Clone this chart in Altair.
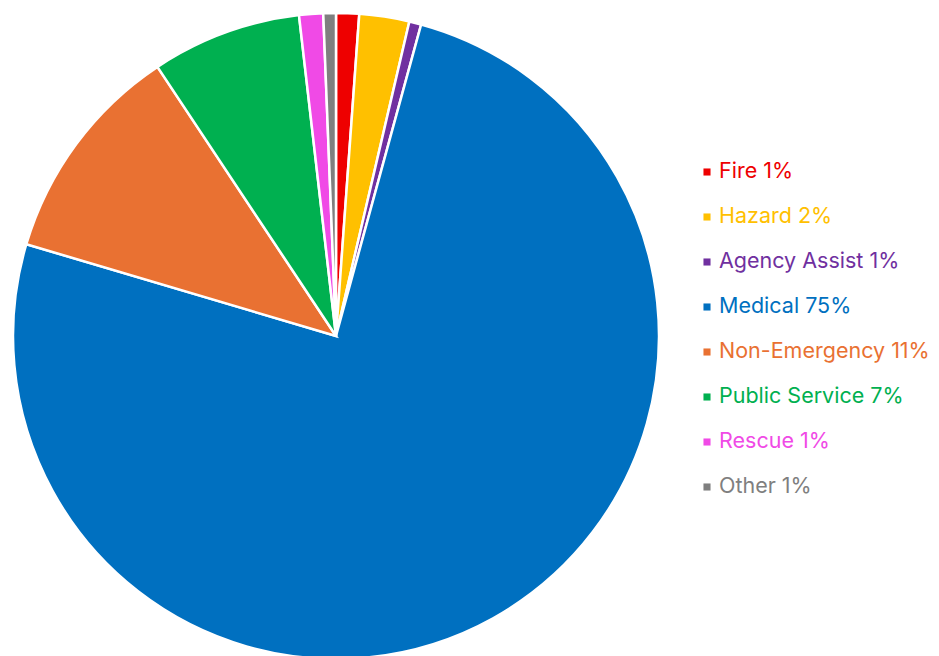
import altair as alt
import pandas as pd

categories = ["Fire", "Hazard", "Agency Assist", "Medical", "Non-Emergency",
              "Public Service", "Rescue", "Other"]
values = [1.15, 2.5, 0.6, 75.4, 11.1, 7.5, 1.2, 0.63]
labels = ["Fire 1%", "Hazard 2%", "Agency Assist 1%", "Medical 75%",
          "Non-Emergency 11%", "Public Service 7%", "Rescue 1%", "Other 1%"]
colors = ["#EE0000", "#FFC000", "#7030A0", "#0070C0", "#E97132",
          "#00B050", "#F04AE6", "#7F7F7F"]

df = pd.DataFrame({
    "category": categories,
    "value": values,
    "label": labels,
    "idx": list(range(len(categories))),
})

color_scale = alt.Scale(domain=categories, range=colors)
base = alt.Chart(df)

pie = base.mark_arc(outerRadius=323, stroke="white", strokeWidth=2.5).encode(
    theta=alt.Theta("value:Q", stack=True),
    color=alt.Color("category:N", scale=color_scale, legend=None),
    order=alt.Order("idx:Q"),
    x=alt.value(328),
    y=alt.value(326),
)

yenc = alt.Y("category:N", sort=categories, axis=None,
             scale=alt.Scale(type="point", domain=categories, range=[162, 477], padding=0))

squares = base.mark_square(size=50, opacity=1).encode(
    x=alt.value(699),
    y=yenc,
    color=alt.Color("category:N", scale=color_scale, legend=None),
)

texts = base.mark_text(align="left", baseline="middle", font="Inter", fontSize=21.5).encode(
    x=alt.value(711),
    y=yenc,
    text="label:N",
    color=alt.Color("category:N", scale=color_scale, legend=None),
)

chart = alt.layer(pie, squares, texts).properties(
    width=923, height=648, padding=0
).configure_view(stroke=None)

chart.save("out.html", embed_options={"renderer": "svg", "actions": False})
